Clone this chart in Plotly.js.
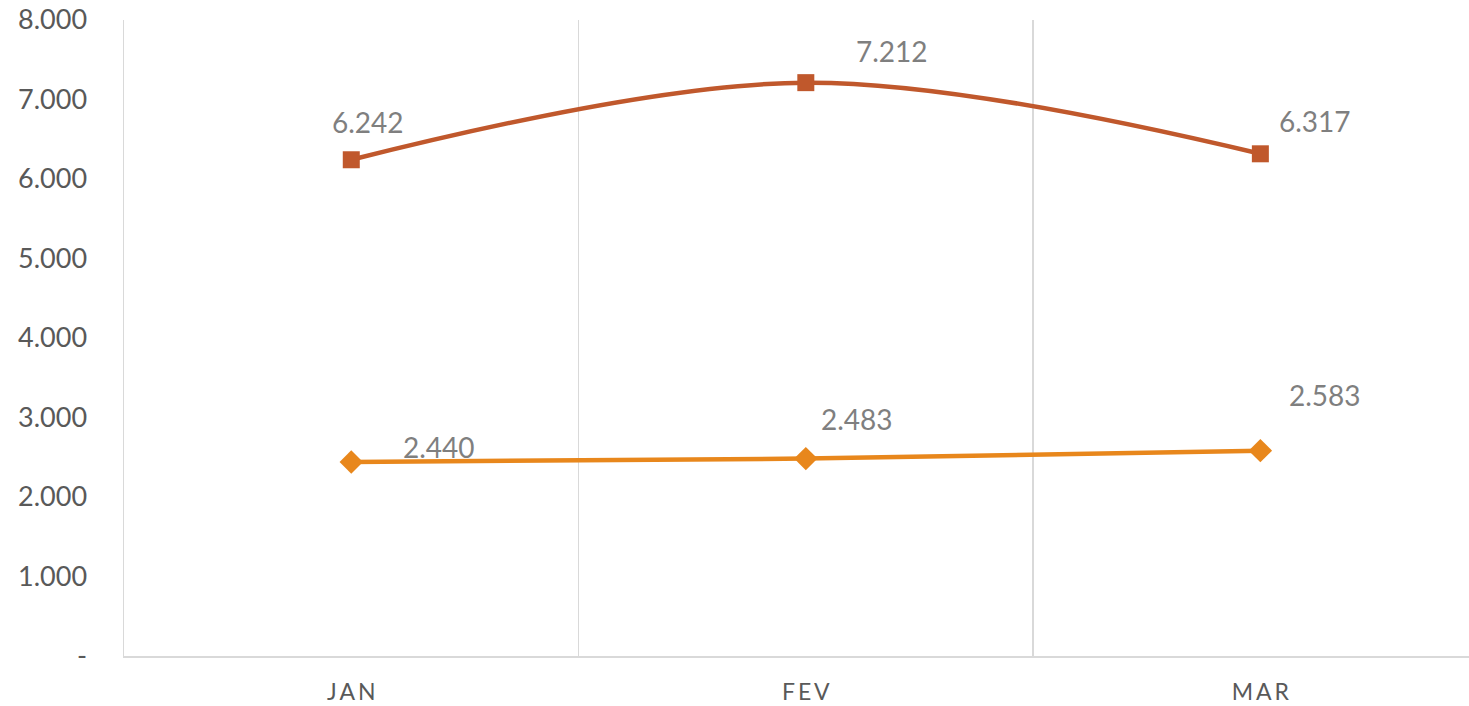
<!DOCTYPE html>
<html>
<head>
<meta charset="utf-8">
<script src="https://cdn.plot.ly/plotly-3.0.1.min.js"></script>
<style>html,body{margin:0;padding:0;background:#fff;}#chart{width:1469px;height:706px;}</style>
</head>
<body>
<div id="chart"></div>
<script>
const months = ['JAN', 'FEV', 'MAR'];
const monthLabels = ['J\u2009A\u2009N', 'F\u2009E\u2009V', 'M\u2009A\u2009R'];
const seriesA = [6242, 7212, 6317];
const seriesB = [2440, 2483, 2583];
const yTickVals = [0, 1000, 2000, 3000, 4000, 5000, 6000, 7000, 8000];
const yTickText = ['-', '1.000', '2.000', '3.000', '4.000', '5.000', '6.000', '7.000', '8.000'];

// label pixel offsets (style) relative to each point
const offA = [[17, -38], [86, -32], [55, -33]];
const offB = [[88, -15], [51, -40], [65, -56]];

const colA = '#C0582C';
const colB = '#E8871C';
const fontFam = 'Lato, "Open Sans", sans-serif';

function fmt(v) {
  return v.toLocaleString('de-DE');
}

const traces = [
  {
    x: months, y: seriesA, type: 'scatter', mode: 'lines+markers',
    line: {color: colA, width: 4.5, shape: 'spline', smoothing: 1},
    marker: {symbol: 'square', size: 17, color: colA},
    hoverinfo: 'skip'
  },
  {
    x: months, y: seriesB, type: 'scatter', mode: 'lines+markers',
    line: {color: colB, width: 4.5, shape: 'spline', smoothing: 1},
    marker: {symbol: 'diamond', size: 18, color: colB},
    hoverinfo: 'skip'
  }
];

const annotations = [];
[[seriesA, offA], [seriesB, offB]].forEach(([vals, offs]) => {
  vals.forEach((v, i) => {
    annotations.push({
      x: months[i], y: v, xref: 'x', yref: 'y',
      text: fmt(v), showarrow: false,
      xshift: offs[i][0], yshift: -offs[i][1],
      font: {family: fontFam, size: 28, color: '#7F7F7F'}
    });
  });
});

const layout = {
  width: 1469, height: 706,
  margin: {l: 124, r: 0, t: 20, b: 50},
  paper_bgcolor: '#ffffff', plot_bgcolor: '#ffffff',
  showlegend: false,
  xaxis: {
    type: 'category', categoryorder: 'array', categoryarray: months,
    range: [-0.5, 2.459],
    tickson: 'boundaries',
    tickvals: months, ticktext: monthLabels,
    showgrid: true, gridcolor: '#D9D9D9', gridwidth: 1.5,
    showline: true, linecolor: '#D9D9D9', linewidth: 1.5,
    ticks: '', ticklabelstandoff: 15,
    tickfont: {family: fontFam, size: 23, color: '#595959'},
    zeroline: false, fixedrange: true
  },
  yaxis: {
    range: [0, 8000],
    tickvals: yTickVals, ticktext: yTickText,
    showgrid: false, zeroline: false,
    showline: true, linecolor: '#D9D9D9', linewidth: 1.5,
    ticks: '', ticklabelstandoff: 30,
    tickfont: {family: fontFam, size: 27, color: '#595959'},
    fixedrange: true
  },
  annotations: annotations
};

Plotly.newPlot('chart', traces, layout, {displayModeBar: false, staticPlot: true});
</script>
</body>
</html>
